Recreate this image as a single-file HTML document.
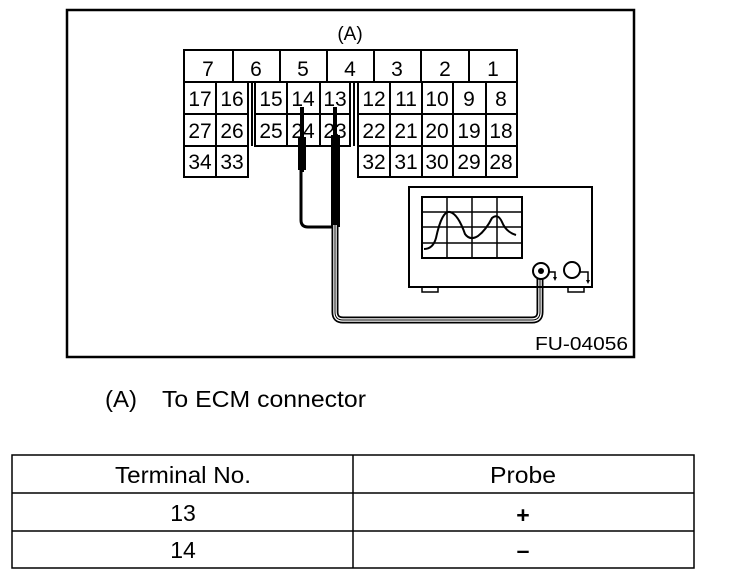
<!DOCTYPE html>
<html><head><style>
body{margin:0;background:#fff;width:736px;height:582px;overflow:hidden;font-family:"Liberation Sans",sans-serif}
</style></head><body>
<svg width="736" height="582" viewBox="0 0 736 582" xmlns="http://www.w3.org/2000/svg" font-family="Liberation Sans, sans-serif">
<rect x="67" y="10" width="567" height="347" fill="none" stroke="#000" stroke-width="2.5"/>
<text x="350" y="40" font-size="19" text-anchor="middle">(A)</text>
<g fill="none" stroke="#000" stroke-width="2">
<rect x="184" y="50" width="333" height="32"/>
<line x1="233" y1="50" x2="233" y2="82"/><line x1="280" y1="50" x2="280" y2="82"/><line x1="327" y1="50" x2="327" y2="82"/><line x1="374" y1="50" x2="374" y2="82"/><line x1="421" y1="50" x2="421" y2="82"/><line x1="469" y1="50" x2="469" y2="82"/>
<rect x="184" y="82" width="64" height="95"/>
<line x1="216" y1="82" x2="216" y2="177"/><line x1="184" y1="114" x2="248" y2="114"/><line x1="184" y1="146" x2="248" y2="146"/>
<line x1="252" y1="82" x2="252" y2="146"/>
<rect x="255" y="82" width="95" height="64"/>
<line x1="287" y1="82" x2="287" y2="146"/><line x1="320" y1="82" x2="320" y2="146"/><line x1="255" y1="114" x2="350" y2="114"/>
<line x1="354" y1="82" x2="354" y2="146"/>
<rect x="358" y="82" width="159" height="95"/>
<line x1="390" y1="82" x2="390" y2="177"/><line x1="422" y1="82" x2="422" y2="177"/><line x1="453" y1="82" x2="453" y2="177"/><line x1="486" y1="82" x2="486" y2="177"/>
<line x1="358" y1="114" x2="517" y2="114"/><line x1="358" y1="146" x2="517" y2="146"/>
</g>
<g font-size="21" text-anchor="middle">
<text x="208" y="76">7</text><text x="256" y="76">6</text><text x="303" y="76">5</text><text x="350" y="76">4</text><text x="397" y="76">3</text><text x="445" y="76">2</text><text x="493" y="76">1</text>
<text x="200" y="106">17</text><text x="232" y="106">16</text><text x="271" y="106">15</text><text x="303" y="106">14</text><text x="335" y="106">13</text><text x="374" y="106">12</text><text x="406" y="106">11</text><text x="437" y="106">10</text><text x="469" y="106">9</text><text x="501" y="106">8</text>
<text x="200" y="138">27</text><text x="232" y="138">26</text><text x="271" y="138">25</text><text x="303" y="138">24</text><text x="335" y="138">23</text><text x="374" y="138">22</text><text x="406" y="138">21</text><text x="437" y="138">20</text><text x="469" y="138">19</text><text x="501" y="138">18</text>
<text x="200" y="169">34</text><text x="232" y="169">33</text><text x="374" y="169">32</text><text x="406" y="169">31</text><text x="437" y="169">30</text><text x="469" y="169">29</text><text x="501" y="169">28</text>
</g>
<rect x="300" y="107" width="4" height="65" fill="#000"/>
<rect x="298" y="137" width="8" height="33" fill="#000"/>
<rect x="333" y="107" width="4" height="30" fill="#000"/>
<rect x="331" y="135" width="9" height="92" fill="#000"/>
<path d="M301 170 V220 Q301 227 308 227 H333" fill="none" stroke="#000" stroke-width="3"/>
<path d="M335 225 V312 Q335 320 343 320 H532 Q540 320 540 312 V272" fill="none" stroke="#000" stroke-width="7"/>
<path d="M335 225 V312 Q335 320 343 320 H532 Q540 320 540 312 V272" fill="none" stroke="#fff" stroke-width="3.5"/>
<path d="M335 225 V312 Q335 320 343 320 H532 Q540 320 540 312 V272" fill="none" stroke="#000" stroke-width="1"/>
<rect x="409" y="187" width="183" height="100" fill="none" stroke="#000" stroke-width="2"/>
<rect x="422" y="197" width="100" height="61" fill="none" stroke="#000" stroke-width="2"/>
<g stroke="#000" stroke-width="1.5"><line x1="447" y1="197" x2="447" y2="258"/><line x1="472" y1="197" x2="472" y2="258"/><line x1="497" y1="197" x2="497" y2="258"/><line x1="422" y1="212" x2="522" y2="212"/><line x1="422" y1="227" x2="522" y2="227"/><line x1="422" y1="243" x2="522" y2="243"/></g>
<path d="M424 249 Q433 249 436 238 Q442 210 450 212 Q458 214 465 234 Q470 241 478 236 Q486 230 492 218 Q498 213 502 222 Q506 232 516 235" fill="none" stroke="#000" stroke-width="2"/>
<rect x="422" y="287" width="16" height="5" fill="none" stroke="#000" stroke-width="1.5"/>
<rect x="568" y="287" width="16" height="5" fill="none" stroke="#000" stroke-width="1.5"/>
<circle cx="541" cy="271" r="8" fill="#fff" stroke="#000" stroke-width="2"/>
<circle cx="541" cy="271" r="3" fill="#000"/>
<circle cx="572" cy="270" r="8" fill="#fff" stroke="#000" stroke-width="2"/>
<path d="M549 272 H555 V278 M580 272 H588 V281" fill="none" stroke="#000" stroke-width="1.5"/>
<path d="M553 277 L557 277 L555 281Z M586 280 L590 280 L588 284Z" fill="#000"/>
<text x="535" y="350" font-size="18" textLength="93" lengthAdjust="spacingAndGlyphs">FU-04056</text>
<text x="105" y="407" font-size="23" textLength="32" lengthAdjust="spacingAndGlyphs">(A)</text>
<text x="162" y="407" font-size="23" textLength="204" lengthAdjust="spacingAndGlyphs">To ECM connector</text>
<g fill="none" stroke="#000" stroke-width="1.5">
<rect x="12" y="455" width="682" height="113"/>
<line x1="12" y1="493" x2="694" y2="493"/><line x1="12" y1="531" x2="694" y2="531"/><line x1="353" y1="455" x2="353" y2="568"/>
</g>
<g font-size="23" text-anchor="middle">
<text x="183" y="483" textLength="136" lengthAdjust="spacingAndGlyphs">Terminal No.</text><text x="523" y="483" textLength="66" lengthAdjust="spacingAndGlyphs">Probe</text>
<text x="183" y="521">13</text><text x="523" y="523" font-weight="bold">+</text>
<text x="183" y="558">14</text><text x="523" y="558" font-weight="bold">–</text>
</g>
</svg>
</body></html>
